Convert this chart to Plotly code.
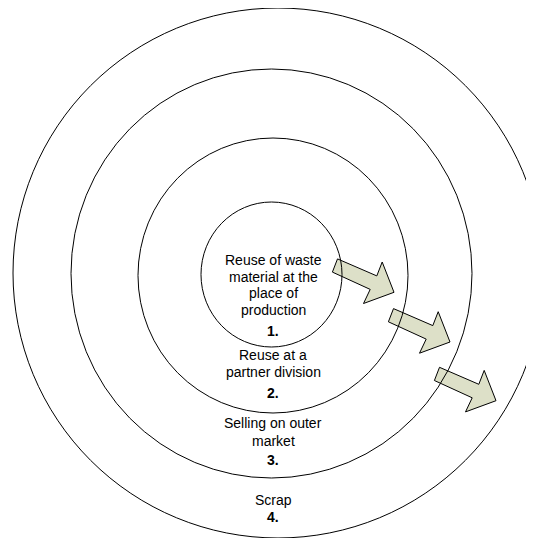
import plotly.graph_objects as go

# ---- data ----
ring_left = [201, 138, 71, 13]
ring_right = [342, 408, 472, 543]
ring_top = [202, 138, 69, 8]
ring_bottom = [347, 413, 478, 538]

label_lines = [
    "Reuse of waste", "material at the", "place of", "production",
    "Reuse at a", "partner division",
    "Selling on outer", "market",
    "Scrap",
]
label_y = [260, 277, 293, 310, 355, 372, 423, 441, 500]
number_labels = ["1.", "2.", "3.", "4."]
number_y = [331, 393, 460, 517]
text_x = 273

# block-arrow outline, relative to the arrow tip
arrow_dx = [-56.5, -17.2, -11.8, 0.0, -30.5, -23.8, -61.6]
arrow_dy = [-33.4, -16.4, -30.3, 0.0, 11.2, -2.9, -20.2]
arrow_tip_x = [394, 450, 496]
arrow_tip_y = [292.3, 342, 400.7]

W, H = 534, 538
PAGE_OFFSET = 8  # default body margin of the html page

fig = go.Figure()
shapes = []
for tx, ty in zip(arrow_tip_x, arrow_tip_y):
    pts = [(tx + dx, ty + dy) for dx, dy in zip(arrow_dx, arrow_dy)]
    path = "M " + " L ".join(f"{x:.1f},{y:.1f}" for x, y in pts) + " Z"
    shapes.append(dict(type="path", path=path, xref="x", yref="y",
                       fillcolor="#dde0c8", line=dict(color="black", width=1)))
for x0, x1, y0, y1 in zip(ring_left, ring_right, ring_top, ring_bottom):
    shapes.append(dict(type="circle", xref="x", yref="y", x0=x0, x1=x1, y0=y0, y1=y1,
                       line=dict(color="black", width=1), fillcolor="rgba(0,0,0,0)"))

annotations = []
font = dict(family="Liberation Sans, Arial, sans-serif", size=14, color="black")
for t, y in zip(label_lines, label_y):
    annotations.append(dict(x=text_x, y=y, xref="x", yref="y", text=t, showarrow=False,
                            xanchor="center", yanchor="middle", font=font))
for t, y in zip(number_labels, number_y):
    annotations.append(dict(x=text_x, y=y, xref="x", yref="y", text=f"<b>{t}</b>",
                            showarrow=False, xanchor="center", yanchor="middle", font=font))

fig.update_layout(
    width=W, height=H, margin=dict(l=0, r=0, t=0, b=0),
    paper_bgcolor="white", plot_bgcolor="white",
    xaxis=dict(range=[PAGE_OFFSET, W + PAGE_OFFSET], visible=False, fixedrange=True),
    yaxis=dict(range=[H + PAGE_OFFSET, PAGE_OFFSET], visible=False, fixedrange=True),
    shapes=shapes, annotations=annotations, showlegend=False,
)
fig.write_html("out.html", config={"displayModeBar": False})
